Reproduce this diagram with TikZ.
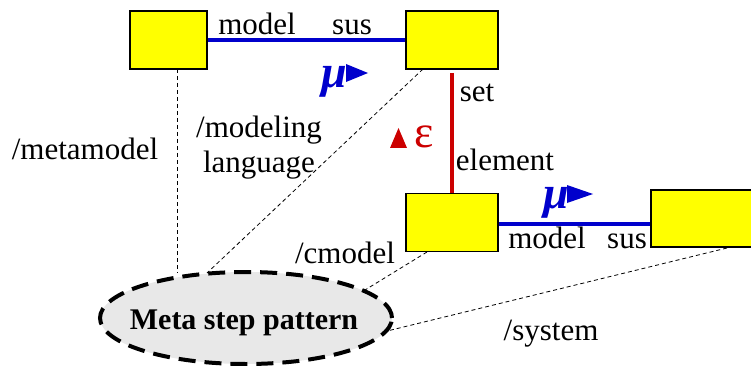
\documentclass[tikz,border=0pt]{standalone}
\usepackage{fontspec}
\setmainfont{Liberation Serif}
\usetikzlibrary{shapes.geometric}
\definecolor{boxyellow}{RGB}{255,255,0}
\definecolor{linkblue}{RGB}{0,0,204}
\definecolor{linkred}{RGB}{204,0,0}
\definecolor{ellgray}{RGB}{232,232,232}
\begin{document}
\begin{tikzpicture}[x=1pt,y=-1pt,
  conceptbox/.style={draw=black,line width=1.5pt,fill=boxyellow,inner sep=0pt},
  lbl/.style={font=\fontsize{31}{35}\selectfont,inner sep=0pt},
  greek/.style={font=\fontsize{46}{48}\selectfont,inner sep=0pt},
  bluelink/.style={draw=linkblue,line width=4pt},
  redlink/.style={draw=linkred,line width=4pt},
  thindash/.style={draw=black,line width=0.8pt,dash pattern=on 4pt off 3pt}]
\useasboundingbox (0,0) rectangle (751,366);
% boxes
\node[conceptbox,minimum width=77pt,minimum height=58pt] (b1) at (168.5,40) {};
\node[conceptbox,minimum width=92pt,minimum height=58pt] (b2) at (452,40) {};
\node[conceptbox,minimum width=92pt,minimum height=58pt] (b3) at (452,222.5) {};
\node[conceptbox,minimum width=110pt,minimum height=57pt] (b4) at (706,218.5) {};
% ellipse
\node[ellipse,draw=black,fill=ellgray,line width=4pt,dash pattern=on 17pt off 9pt,
      minimum width=292pt,minimum height=92pt,inner sep=0pt] (ms) at (246,318) {};
\node[font=\fontsize{30}{36}\selectfont\bfseries,inner sep=0pt,anchor=base] (mst) at (244,329) {Meta step pattern};
% links
\draw[bluelink] (b1.east) -- (b2.west);
\draw[bluelink] (b3.east |- 0,224) -- (b4.west |- 0,224);
\coordinate (rtop) at (452,73);
\draw[redlink] (rtop) -- (b3.north);
% dashed lines
\coordinate (d1a) at (177,69);
\coordinate (d1b) at (177,273);
\draw[thindash] (d1a) -- (d1b);
\coordinate (d2a) at (423,69);
\coordinate (d2b) at (207,273);
\draw[thindash] (d2a) -- (d2b);
\coordinate (d3a) at (427,252);
\coordinate (d3b) at (365,290);
\draw[thindash] (d3a) -- (d3b);
\coordinate (d4a) at (727,248);
\coordinate (d4b) at (383,332);
\draw[thindash] (d4a) -- (d4b);
% labels
\node[lbl,anchor=base] (t1) at (257,35) {model};
\node[lbl,anchor=base] (t2) at (352,35) {sus};
\node[lbl,anchor=base] (t3) at (477,102) {set};
\node[lbl,anchor=base] (t4) at (505,171) {element};
\node[lbl,anchor=base] (t5) at (547,248) {model};
\node[lbl,anchor=base] (t6) at (627,248) {sus};
\node[lbl,anchor=base] (t7) at (85,160) {/metamodel};
\node[lbl,anchor=base,align=center] (t8) at (259,172) {/modeling\\language};
\node[lbl,anchor=base] (t9) at (345,263) {/cmodel};
\node[lbl,anchor=base] (t10) at (551,340) {/system};
% greek marks
\node[greek,text=linkblue,anchor=base east] (mu1) at (347,88) {\bfseries\itshape μ};
\fill[linkblue] (346,64) -- (368,73) -- (346,82) -- cycle;
\node[greek,text=linkblue,anchor=base east] (mu2) at (569,208) {\bfseries\itshape μ};
\fill[linkblue] (567,185) -- (593,194) -- (567,203) -- cycle;
\fill[linkred] (390,148) -- (398.5,128) -- (407,148) -- cycle;
\node[greek,text=linkred,anchor=base west] (eps) at (414,148) {ε};
\end{tikzpicture}
\end{document}
